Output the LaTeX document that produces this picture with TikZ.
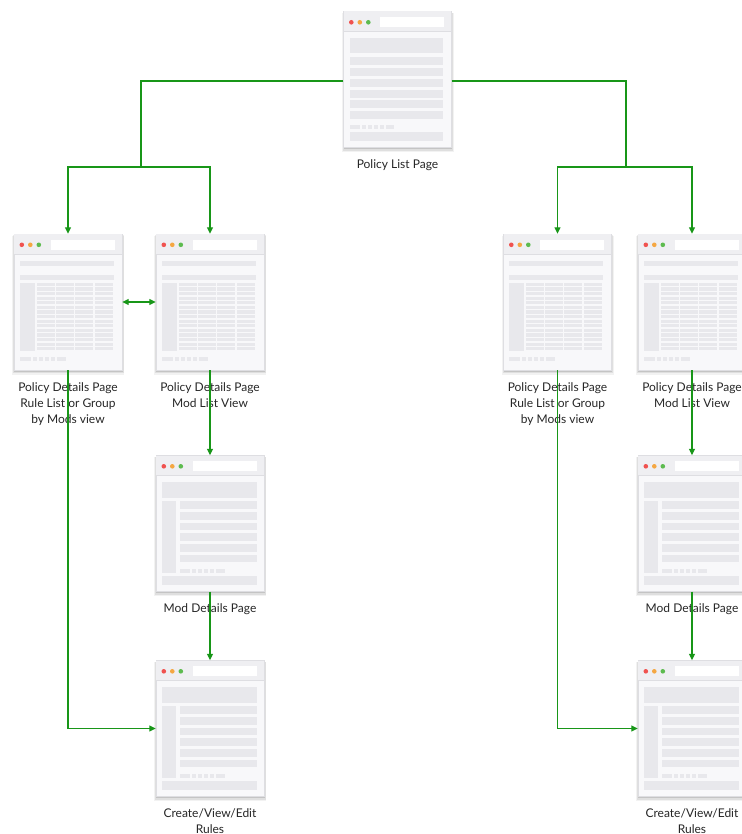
\documentclass[tikz,border=0pt]{standalone}
\usepackage{fontspec}
\setmainfont{Lato}
\usetikzlibrary{arrows.meta}
\definecolor{cgreen}{RGB}{24,150,24}
\definecolor{winbg}{RGB}{248,248,250}
\definecolor{winborder}{RGB}{222,222,226}
\definecolor{titlebg}{RGB}{239,239,242}
\definecolor{blockc}{RGB}{232,232,236}
\definecolor{dotr}{RGB}{240,82,79}
\definecolor{doto}{RGB}{245,167,66}
\definecolor{dotg}{RGB}{93,187,79}
\tikzset{
  winbox/.style={minimum width=108pt,minimum height=136pt,inner sep=0pt,draw=none},
  lbl/.style={anchor=north,align=center,font=\fontsize{12}{16}\selectfont,text=black!85,inner sep=0pt},
  conn/.style={draw=cgreen,line width=1.2pt},
  arr/.style={conn,-{Triangle[length=6.5pt,width=6pt]}},
  darr/.style={conn,{Triangle[length=6.5pt,width=6pt]}-{Triangle[length=6.5pt,width=6pt]}},
  blk/.style={fill=blockc,draw=none},
  wframe/.pic={
    \fill[black,opacity=0.05] (-1.5,2) rectangle (110.5,141);
    \fill[black,opacity=0.08] (-0.5,1.5) rectangle (109.8,139.5);
    \fill[black,opacity=0.12] (0.3,1) rectangle (109,138);
    \fill[winbg,draw=winborder,line width=0.4pt] (0,0) rectangle (108,136);
    \fill[titlebg] (0.2,0.2) rectangle (107.8,20);
    \draw[winborder,line width=0.4pt] (0,20) -- (108,20);
    \fill[dotr] (8,11) circle (2.3);
    \fill[doto] (16.5,11) circle (2.3);
    \fill[dotg] (25,11) circle (2.3);
    \fill[white] (37,6) rectangle (101,16);
  },
  listwin/.pic={
    \pic {wframe};
    \fill[blk] (7,27) rectangle (100,42);
    \foreach \y in {46,57,68,79,89,100} \fill[blk] (7,\y) rectangle (100,\y+7.5);
    \fill[blk] (7,114) rectangle (17,118);
    \foreach \x in {19,25,31,37} \fill[blk] (\x,114) rectangle (\x+4,118);
    \fill[blk] (43,114) rectangle (51,118);
    \fill[blk] (7,121) rectangle (100,130);
  },
  tablewin/.pic={
    \pic {wframe};
    \fill[blk] (6,27) rectangle (100,32);
    \fill[blk] (6,41) rectangle (100,46);
    \fill[blk] (6,49) rectangle (21,117);
    \foreach \i in {0,...,14} {
      \foreach \x in {23,42,61,81} \fill[blk] (\x,49+\i*4.6) rectangle (\x+18,49+\i*4.6+3.1);
    }
    \fill[blk] (6,123) rectangle (17,127);
    \foreach \x in {19,25,31,37} \fill[blk] (\x,123) rectangle (\x+4,127);
    \fill[blk] (43,123) rectangle (52,127);
  },
  detailwin/.pic={
    \pic {wframe};
    \fill[blk] (6,27) rectangle (101,43);
    \fill[blk] (6,46) rectangle (20,118);
    \foreach \i in {0,...,5} \fill[blk] (24,46+\i*10.7) rectangle (101,46+\i*10.7+7.5);
    \fill[blk] (24,114) rectangle (34,118);
    \foreach \x in {36,42,48,54} \fill[blk] (\x,114) rectangle (\x+4,118);
    \fill[blk] (60,114) rectangle (69,118);
    \fill[blk] (6,121) rectangle (101,130);
  }
}
\begin{document}
\begin{tikzpicture}[x=1pt,y=-1pt]
\useasboundingbox (0,0) rectangle (741,834);
% window nodes
\node[winbox] (top) at (397.5,79.5) {};
\node[winbox] (A) at (68,302) {};
\node[winbox] (B) at (210,302) {};
\node[winbox] (C) at (210,523.5) {};
\node[winbox] (D) at (210,728.5) {};
\node[winbox] (A2) at (557.5,302) {};
\node[winbox] (B2) at (692,302) {};
\node[winbox] (C2) at (692,523.5) {};
\node[winbox] (D2) at (692,728.5) {};
% drawings
\pic at (top.north west) {listwin};
\pic at (A.north west) {tablewin};
\pic at (B.north west) {tablewin};
\pic at (C.north west) {detailwin};
\pic at (D.north west) {detailwin};
\pic at (A2.north west) {tablewin};
\pic at (B2.north west) {tablewin};
\pic at (C2.north west) {detailwin};
\pic at (D2.north west) {detailwin};
% labels
\node[lbl] (ltop) at ([yshift=-12pt]top.south) {Policy List Page};
\node[lbl] (lA) at ([yshift=-12pt]A.south) {Policy Details Page\\Rule List or Group\\by Mods view};
\node[lbl] (lB) at ([yshift=-12pt]B.south) {Policy Details Page\\Mod List View};
\node[lbl] (lC) at ([yshift=-12pt]C.south) {Mod Details Page};
\node[lbl] (lD) at ([yshift=-12pt]D.south) {Create/View/Edit\\Rules};
\node[lbl] (lA2) at ([yshift=-12pt]A2.south) {Policy Details Page\\Rule List or Group\\by Mods view};
\node[lbl] (lB2) at ([yshift=-12pt]B2.south) {Policy Details Page\\Mod List View};
\node[lbl] (lC2) at ([yshift=-12pt]C2.south) {Mod Details Page};
\node[lbl] (lD2) at ([yshift=-12pt]D2.south) {Create/View/Edit\\Rules};
% connectors
\coordinate (tl) at ([yshift=-1.5pt]top.west);
\coordinate (tr) at ([yshift=-1.5pt]top.east);
\coordinate (jl) at (141,167);
\coordinate (jr) at (626,167);
\draw[conn] (tl) -| (jl);
\draw[arr] (jl) -| (A.north);
\draw[arr] (jl) -| (B.north);
\draw[conn] (tr) -| (jr);
\draw[arr] (jr) -| (A2.north);
\draw[arr] (jr) -| (B2.north);
\draw[darr] (A.east) -- (B.west);
\draw[arr] (B.south) -- (C.north);
\draw[arr] (C.south) -- (D.north);
\draw[arr] (A.south) |- (D.west);
\draw[arr] (B2.south) -- (C2.north);
\draw[arr] (C2.south) -- (D2.north);
\draw[arr] (A2.south) |- (D2.west);
\end{tikzpicture}
\end{document}
